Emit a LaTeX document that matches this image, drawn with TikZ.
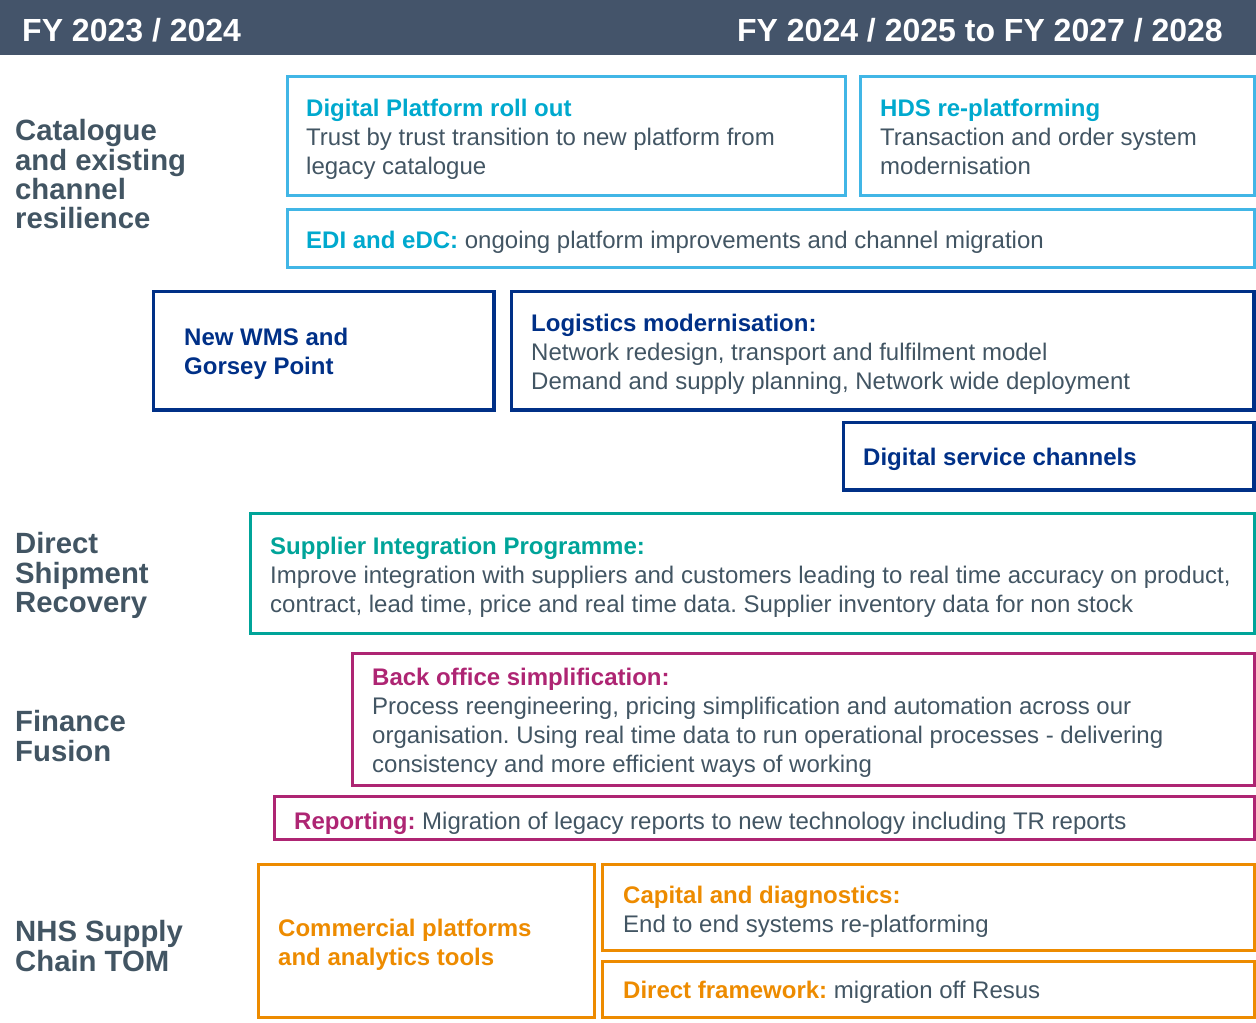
\documentclass[tikz,border=0pt]{standalone}
\usepackage{fontspec}
\setmainfont{Liberation Sans}
\frenchspacing

\definecolor{slate}{HTML}{425563}
\definecolor{headbar}{HTML}{44546A}
\definecolor{skyline}{HTML}{41B6E6}
\definecolor{skytext}{HTML}{00A9CE}
\definecolor{navy}{HTML}{003087}
\definecolor{nhsteal}{HTML}{00A499}
\definecolor{plum}{HTML}{AE2573}
\definecolor{amber}{HTML}{ED8B00}

\newcommand{\boxtitle}[2]{{\color{#1}\bfseries #2}}

\begin{document}
\begin{tikzpicture}[x=1pt,y=-1pt,
    every node/.style={inner sep=0pt,text=slate},
    lane/.style={line width=3pt},
    txt/.style={anchor=north west,align=left,font=\fontsize{24}{28.8}\selectfont,
      execute at begin node=\rule{0pt}{22pt}},
    oneliner/.style={anchor=base west,font=\fontsize{24}{28.8}\selectfont},
    rowlabel/.style={anchor=north west,align=left,font=\fontsize{29.3}{29.3}\selectfont\bfseries,
      execute at begin node=\rule{0pt}{24pt}}]
  \useasboundingbox (0,0) rectangle (1256,1023);

  % year header
  \fill[headbar] (0,0) rectangle (1256,55);
  \node[anchor=base west,text=white,font=\fontsize{32}{32}\selectfont\bfseries] (fy1) at (22,41) {FY 2023 / 2024};
  \node[anchor=base east,text=white,font=\fontsize{32}{32}\selectfont\bfseries] (fy2) at (1223,41) {FY 2024 / 2025 to FY 2027 / 2028};

  % row labels
  \node[rowlabel] (catalogue) at (15,119.5) {Catalogue\\and existing\\channel\\resilience};
  \node[rowlabel] (direct) at (15,532.5) {Direct\\Shipment\\Recovery};
  \node[rowlabel] (finance) at (15,710.5) {Finance\\Fusion};
  \node[rowlabel] (tom) at (15,920.5) {NHS Supply\\Chain TOM};

  % catalogue lane
  \draw[lane,skyline] (287.5,76.5) rectangle (845,195);
  \draw[lane,skyline] (860.5,76.5) rectangle (1254,195);
  \draw[lane,skyline] (287.5,209.5) rectangle (1254,267);
  \node[txt] (dpr) at (306,99) {\boxtitle{skytext}{Digital Platform roll out}\\Trust by trust transition to new platform from\\legacy catalogue};
  \node[txt] (hds) at (880,99) {\boxtitle{skytext}{HDS re-platforming}\\Transaction and order system\\modernisation};
  \node[oneliner] (edi) at (306,248) {\boxtitle{skytext}{EDI and eDC:} ongoing platform improvements and channel migration};

  % logistics
  \draw[lane,navy,line width=3.5pt] (153.5,291.5) rectangle (494,410);
  \draw[lane,navy,line width=3.5pt] (511.5,291.5) rectangle (1254,410);
  \draw[lane,navy,line width=3.5pt] (843.5,422.5) rectangle (1254,490);
  \node[txt] (wms) at (184,328) {\boxtitle{navy}{New WMS and}\\\boxtitle{navy}{Gorsey Point}};
  \node[txt] (logistics) at (531,314) {\boxtitle{navy}{Logistics modernisation:}\\Network redesign, transport and fulfilment model\\Demand and supply planning, Network wide deployment};
  \node[oneliner] (dsc) at (863,465) {\boxtitle{navy}{Digital service channels}};

  % direct shipment
  \draw[lane,nhsteal] (250.5,513.5) rectangle (1254,633);
  \node[txt] (sip) at (270,537) {\boxtitle{nhsteal}{Supplier Integration Programme:}\\Improve integration with suppliers and customers leading to real time accuracy on product,\\contract, lead time, price and real time data. Supplier inventory data for non stock};

  % finance
  \draw[lane,plum] (352.5,653.5) rectangle (1254,785);
  \draw[lane,plum] (274.5,796.5) rectangle (1254,839);
  \node[txt] (backoffice) at (372,668) {\boxtitle{plum}{Back office simplification:}\\Process reengineering, pricing simplification and automation across our\\organisation. Using real time data to run operational processes - delivering\\consistency and more efficient ways of working};
  \node[oneliner] (reporting) at (294,829) {\boxtitle{plum}{Reporting:} Migration of legacy reports to new technology including TR reports};

  % target operating model
  \draw[lane,amber] (258.5,864.5) rectangle (594,1017);
  \draw[lane,amber] (602.5,864.5) rectangle (1254,950);
  \draw[lane,amber] (602.5,961.5) rectangle (1254,1017);
  \node[txt] (commercial) at (278,919) {\boxtitle{amber}{Commercial platforms}\\\boxtitle{amber}{and analytics tools}};
  \node[txt] (capital) at (623,886) {\boxtitle{amber}{Capital and diagnostics:}\\End to end systems re-platforming};
  \node[oneliner] (framework) at (623,998) {\boxtitle{amber}{Direct framework:} migration off Resus};
\end{tikzpicture}
\end{document}
